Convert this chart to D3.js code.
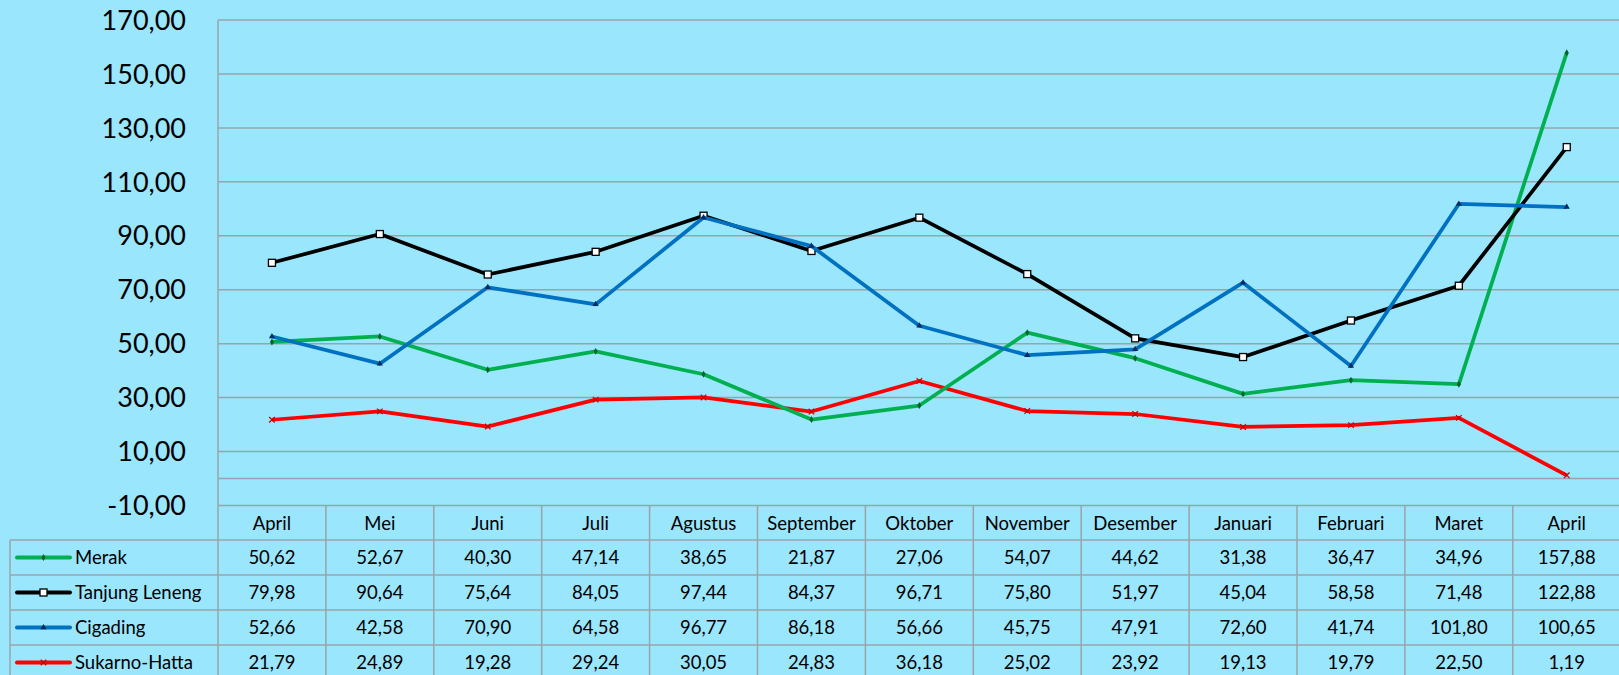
<!DOCTYPE html>
<html>
<head>
<meta charset="utf-8">
<script src="https://d3js.org/d3.v7.min.js"></script>
<style>
  html, body { margin: 0; padding: 0; background: #9ae6fd; }
  svg { display: block; font-family: Lato, "Open Sans", sans-serif; }
</style>
</head>
<body>
<svg width="1619" height="675"></svg>
<script>
const months = ["April", "Mei", "Juni", "Juli", "Agustus", "September", "Oktober", "November", "Desember", "Januari", "Februari", "Maret", "April"]
const seriesNames = ["Merak", "Tanjung Leneng", "Cigading", "Sukarno-Hatta"]
const merak = [50.62, 52.67, 40.30, 47.14, 38.65, 21.87, 27.06, 54.07, 44.62, 31.38, 36.47, 34.96, 157.88]
const tanjung = [79.98, 90.64, 75.64, 84.05, 97.44, 84.37, 96.71, 75.80, 51.97, 45.04, 58.58, 71.48, 122.88]
const cigading = [52.66, 42.58, 70.90, 64.58, 96.77, 86.18, 56.66, 45.75, 47.91, 72.60, 41.74, 101.80, 100.65]
const sukarno = [21.79, 24.89, 19.28, 29.24, 30.05, 24.83, 36.18, 25.02, 23.92, 19.13, 19.79, 22.50, 1.19]
const yTicks = [170, 150, 130, 110, 90, 70, 50, 30, 10, -10]
const colors = ["#00b050", "#000000", "#0070c0", "#ff0000"]
const allValues = [merak, tanjung, cigading, sukarno]

const svg = d3.select("svg")
const fmt = v => d3.format(".2f")(v).replace(".", ",").replace("\u2212", "-")
const gridColor = "#98a4aa"

const x = d3.scaleBand().domain(d3.range(months.length)).range([218, 1620.7])
const y = d3.scaleLinear().domain([-10, 170]).range([505.5, 20])
const rowTop = [506, 540, 575, 610, 645, 680]

// gridlines
svg.append("g").selectAll("line").data(yTicks).enter().append("line")
  .attr("x1", 218).attr("x2", 1619)
  .attr("y1", d => y(d)).attr("y2", d => y(d))
  .attr("stroke", gridColor).attr("stroke-width", 1.5)
// category axis at 0
svg.append("line").attr("x1", 218).attr("x2", 1619)
  .attr("y1", y(0)).attr("y2", y(0))
  .attr("stroke", gridColor).attr("stroke-width", 1.5)

// y labels
svg.append("g").selectAll("text").data(yTicks).enter().append("text")
  .attr("x", 186).attr("y", d => y(d)).attr("dy", "0.36em")
  .attr("text-anchor", "end").attr("font-size", 27).attr("fill", "#000")
  .text(d => fmt(d))

// table lines
const tbl = svg.append("g").attr("stroke", gridColor).attr("stroke-width", 1.5)
tbl.append("line").attr("x1", 218).attr("x2", 218).attr("y1", 20).attr("y2", 675)
tbl.selectAll(".v").data(d3.range(1, months.length + 1)).enter().append("line")
  .attr("x1", d => x.range()[0] + d * x.bandwidth()).attr("x2", d => x.range()[0] + d * x.bandwidth())
  .attr("y1", 506).attr("y2", 675)
tbl.append("line").attr("x1", 10).attr("x2", 10).attr("y1", 540).attr("y2", 675)
tbl.selectAll(".h").data(rowTop.slice(1, 5)).enter().append("line")
  .attr("x1", 10).attr("x2", 1619).attr("y1", d => d).attr("y2", d => d)

// header
svg.append("g").selectAll("text").data(months).enter().append("text")
  .attr("x", (d, i) => x(i) + x.bandwidth() / 2)
  .attr("y", (rowTop[0] + rowTop[1]) / 2).attr("dy", "0.36em")
  .attr("text-anchor", "middle").attr("font-size", 18.5).text(d => d)

// markers
function marker(g, k, cx, cy) {
  if (k === 0) {
    g.append("path").attr("d", d3.symbol(d3.symbolDiamond, 14)()).attr("transform", `translate(${cx},${cy})`).attr("fill", "#00602a")
  } else if (k === 1) {
    g.append("rect").attr("x", cx - 3.5).attr("y", cy - 3.5).attr("width", 7).attr("height", 7)
      .attr("fill", "#fff").attr("stroke", "#000").attr("stroke-width", 1.3)
  } else if (k === 2) {
    g.append("path").attr("d", d3.symbol(d3.symbolTriangle, 16)()).attr("transform", `translate(${cx},${cy})`).attr("fill", "#002a5a")
  } else {
    g.append("path").attr("d", d3.symbol(d3.symbolTimes, 22)()).attr("transform", `translate(${cx},${cy})`)
      .attr("stroke", "#c00000").attr("stroke-width", 1.2).attr("fill", "none")
  }
}

// lines
const line = d3.line().x((d, i) => x(i) + x.bandwidth() / 2).y(d => y(d))
const drawOrder = [3, 0, 1, 2]
drawOrder.forEach(k => {
  const g = svg.append("g")
  g.append("path").datum(allValues[k]).attr("d", line)
    .attr("fill", "none").attr("stroke", colors[k]).attr("stroke-width", 3.75)
    .attr("stroke-linejoin", "round")
  allValues[k].forEach((v, i) => marker(g, k, x(i) + x.bandwidth() / 2, y(v)))
})

// rows
seriesNames.forEach((name, k) => {
  const cy = (rowTop[k + 1] + rowTop[k + 2]) / 2
  const g = svg.append("g")
  g.append("line").attr("x1", 17).attr("x2", 70).attr("y1", cy).attr("y2", cy)
    .attr("stroke", colors[k]).attr("stroke-width", 4).attr("stroke-linecap", "round")
  marker(g, k, 43.5, cy)
  g.append("text").attr("x", 75).attr("y", cy).attr("dy", "0.36em")
    .attr("font-size", 18.5).text(name)
  g.selectAll(".val").data(allValues[k]).enter().append("text")
    .attr("x", (d, i) => x(i) + x.bandwidth() / 2).attr("y", cy).attr("dy", "0.36em")
    .attr("text-anchor", "middle").attr("font-size", 18.5).text(d => fmt(d))
})
</script>
</body>
</html>
